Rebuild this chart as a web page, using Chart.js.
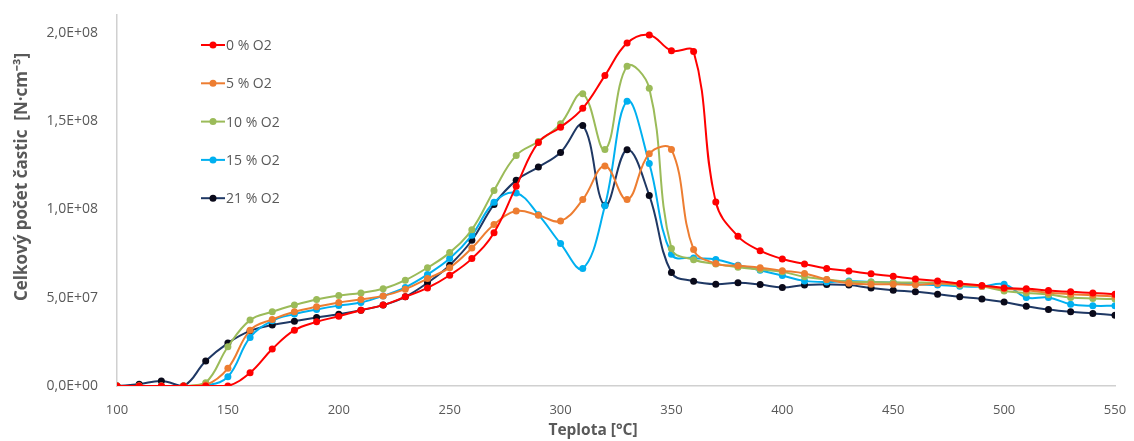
<!DOCTYPE html>
<html lang="cs">
<head>
<meta charset="utf-8">
<title>Celkový počet částic</title>
<script src="https://cdn.jsdelivr.net/npm/chart.js@4.4.1/dist/chart.umd.min.js"></script>
<style>
  html, body { margin: 0; padding: 0; background: #ffffff; }
  #wrap { position: relative; width: 1134px; height: 441px; }
</style>
</head>
<body>
<div id="wrap"><canvas id="chart" width="1134" height="441"></canvas></div>
<script>
// Temperature steps [°C]
const temperatures = [100,110,120,130,140,150,160,170,180,190,200,210,220,230,240,250,260,270,280,290,300,
  310,320,330,340,350,360,370,380,390,400,410,420,430,440,450,460,470,480,490,500,510,520,530,540,550];

// Total particle count [N·cm⁻³] for each oxygen level
const o2_0 = [0,0,0,0,0,0,7.5e6,20.9e6,31.6e6,36.3e6,39.5e6,42.9e6,45.8e6,50.5e6,55.5e6,62.7e6,72.1e6,86.8e6,113e6,137.9e6,146.5e6,
  157.2e6,175.7e6,194.1e6,198.7e6,189.8e6,189.3e6,104.1e6,84.7e6,76.6e6,71.9e6,69.1e6,66.5e6,65.1e6,63.5e6,62.1e6,60.6e6,59.5e6,58e6,56.9e6,55.5e6,55e6,54.1e6,53.3e6,52.7e6,52e6];
const o2_5 = [0,0,0,0,0.5e6,10e6,31.5e6,37.7e6,42e6,44.8e6,47.3e6,49e6,51e6,54.8e6,60.8e6,67e6,78.1e6,91.4e6,99e6,96.6e6,93.4e6,
  105.5e6,124.5e6,105.5e6,131.5e6,133.9e6,77.2e6,69.3e6,68e6,67e6,65.3e6,63.7e6,60.3e6,58.2e6,57.6e6,57.6e6,57.3e6,58e6,57.6e6,56.4e6,55e6,54.2e6,52.8e6,52e6,51.4e6,50.6e6];
const o2_10 = [0,0,0,0,1.9e6,22.2e6,37.3e6,42e6,45.8e6,49e6,51.2e6,52.7e6,55e6,59.9e6,67e6,75.5e6,88.5e6,110.7e6,130.5e6,138.4e6,148.4e6,
  165.4e6,133.8e6,181e6,168.5e6,77.8e6,71.5e6,69e6,67.2e6,65.9e6,64.6e6,61.8e6,60.3e6,59e6,58.9e6,58.6e6,58.6e6,58.3e6,57e6,56.3e6,53.8e6,52.7e6,51.8e6,50.1e6,49.5e6,49.2e6];
const o2_15 = [0,0,0,0,0.3e6,5.3e6,27.5e6,36.9e6,40.7e6,43.3e6,45.5e6,47.3e6,51e6,55.8e6,63.1e6,72.1e6,85.3e6,104e6,109.2e6,97e6,80.6e6,
  66.5e6,102e6,161.2e6,125.9e6,74.6e6,72.5e6,71.6e6,68.4e6,65.5e6,62.5e6,59.5e6,58.9e6,59.5e6,58.9e6,58.6e6,57.6e6,57.2e6,56.5e6,56.3e6,57.6e6,50.1e6,50.1e6,46.3e6,45.4e6,45.4e6];
const o2_21 = [0,1e6,2.8e6,0,14.1e6,24.3e6,31.2e6,34.5e6,36.7e6,38.8e6,40.6e6,42.9e6,45.8e6,50.5e6,58.4e6,68.4e6,82.5e6,102.8e6,116.4e6,123.9e6,132.2e6,
  147.5e6,102.3e6,133.7e6,107.9e6,64.2e6,59.3e6,57.6e6,58.4e6,57.4e6,55.8e6,57.2e6,57.4e6,57.1e6,55.5e6,54.2e6,53.3e6,52e6,50.5e6,49.3e6,47.5e6,45.2e6,43.3e6,42e6,41.1e6,40.1e6];

const seriesNames = ['0 % O2', '5 % O2', '10 % O2', '15 % O2', '21 % O2'];

// Axis ticks and titles
const xTicks = [100,150,200,250,300,350,400,450,500,550];
const yTicks = [0, 5e7, 1e8, 1.5e8, 2e8];
const yTickLabels = ['0,0E+00', '5,0E+07', '1,0E+08', '1,5E+08', '2,0E+08'];
const xTitle = 'Teplota [°C]';
const yTitle = 'Celkový počet častic  [N·cm⁻³]';

const textGray = '#595959';
const lineColors  = ['#ff0000', '#ed7d31', '#9bbb59', '#00b0f0', '#1f3864'];
const pointColors = ['#ff0000', '#ed7d31', '#9bbb59', '#00b0f0', '#0a0a1a'];
const seriesData = [o2_0, o2_5, o2_10, o2_15, o2_21];

const datasets = seriesData.map((vals, i) => ({
  label: seriesNames[i],
  data: temperatures.map((t, k) => ({ x: t, y: vals[k] })),
  borderColor: lineColors[i],
  backgroundColor: pointColors[i],
  pointBackgroundColor: pointColors[i],
  pointBorderColor: pointColors[i],
  pointRadius: 3.5,
  pointBorderWidth: 0,
  borderWidth: 2,
  tension: 0.4,
  fill: false
}));

// Legend drawn inside the plot area, top-left
const innerLegend = {
  id: 'innerLegend',
  afterDatasetsDraw(chart) {
    const ctx = chart.ctx;
    const x0 = 201, x1 = 225, startY = 45, step = 38.3;
    ctx.save();
    ctx.font = '14px "Open Sans", sans-serif';
    ctx.textBaseline = 'middle';
    ctx.textAlign = 'left';
    chart.data.datasets.forEach((ds, i) => {
      const y = startY + i * step;
      ctx.strokeStyle = ds.borderColor;
      ctx.lineWidth = 2;
      ctx.beginPath();
      ctx.moveTo(x0, y);
      ctx.lineTo(x1, y);
      ctx.stroke();
      ctx.fillStyle = ds.pointBackgroundColor;
      ctx.beginPath();
      ctx.arc((x0 + x1) / 2, y, 3.5, 0, Math.PI * 2);
      ctx.fill();
      ctx.fillStyle = textGray;
      ctx.fillText(ds.label, x1 + 1, y + 1);
    });
    ctx.restore();
  }
};

// Axis titles placed beside the plot
const axisTitles = {
  id: 'axisTitles',
  afterDraw(chart) {
    const ctx = chart.ctx;
    ctx.save();
    ctx.fillStyle = textGray;
    ctx.textAlign = 'center';
    ctx.textBaseline = 'middle';
    ctx.font = 'bold 15.5px "Open Sans", sans-serif';
    ctx.fillText(xTitle, 593, 431);
    ctx.translate(22, 177);
    ctx.rotate(-Math.PI / 2);
    ctx.font = 'bold 17px "Open Sans", sans-serif';
    ctx.fillText(yTitle, 0, 0);
    ctx.restore();
  }
};

new Chart(document.getElementById('chart'), {
  type: 'line',
  data: { datasets },
  plugins: [innerLegend, axisTitles],
  options: {
    responsive: false,
    animation: false,
    layout: { padding: { left: 0, right: 19, top: 15, bottom: 0 } },
    plugins: { legend: { display: false }, tooltip: { enabled: false } },
    scales: {
      x: {
        type: 'linear',
        min: 100,
        max: 550,
        afterBuildTicks(scale) { scale.ticks = xTicks.map(v => ({ value: v })); },
        afterFit(scale) {
          scale.height = 55;
          scale.paddingLeft = 0;
          scale.paddingRight = 0;
        },
        grid: { display: false, drawTicks: false },
        border: { display: true, color: '#d0d0d0', width: 1.5 },
        ticks: { color: textGray, font: { family: 'Open Sans', size: 13 }, padding: 16, maxRotation: 0 }
      },
      y: {
        type: 'linear',
        min: 0,
        max: 2.1e8,
        afterBuildTicks(scale) { scale.ticks = yTicks.map(v => ({ value: v })); },
        afterFit(scale) {
          scale.width = 117;
          scale.paddingTop = 0;
          scale.paddingBottom = 0;
        },
        grid: { display: false, drawTicks: false },
        border: { display: true, color: '#d0d0d0', width: 1.5 },
        ticks: {
          color: textGray,
          font: { family: 'Open Sans', size: 14 },
          padding: 19,
          callback(value) {
            const idx = yTicks.indexOf(value);
            return idx >= 0 ? yTickLabels[idx] : '';
          }
        }
      }
    }
  }
});
</script>
</body>
</html>
